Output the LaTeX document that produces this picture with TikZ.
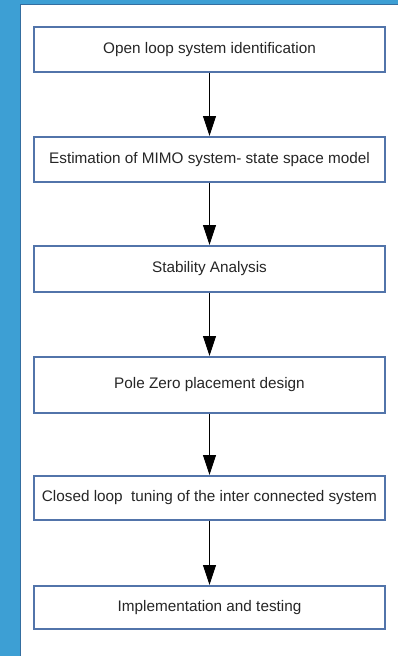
\documentclass[tikz,border=0pt]{standalone}
\usepackage{fontspec}
\setmainfont{Liberation Sans}
\usetikzlibrary{arrows.meta}
\definecolor{pageblue}{RGB}{61,159,212}
\definecolor{paneledge}{RGB}{52,110,160}
\definecolor{boxedge}{RGB}{82,116,170}
\tikzset{
  stepbox/.style={draw=boxedge, line width=1.6pt, fill=white, minimum width=351pt,
    inner sep=0pt, anchor=north, font=\fontsize{15.3}{18}\selectfont, text=black!85},
  flow/.style={draw=black, line width=1pt, -{Triangle[length=20pt,width=13pt]}}
}
\begin{document}
\begin{tikzpicture}[x=1pt,y=-1pt]
  % page background and white sheet
  \fill[pageblue] (0,0) rectangle (398,656);
  \useasboundingbox (0,0) rectangle (398,656);
  \filldraw[fill=white, draw=paneledge, line width=0.8pt] (20.5,4.5) rectangle (402,660);
  % process steps
  \node[stepbox, minimum height=45pt] (s1) at (209.5,26) {Open loop system identification};
  \node[stepbox, minimum height=45pt] (s2) at (209.5,136) {Estimation of MIMO system- state space model};
  \node[stepbox, minimum height=46pt] (s3) at (209.5,245) {Stability Analysis};
  \node[stepbox, minimum height=56pt] (s4) at (209.5,356) {Pole Zero placement design};
  \node[stepbox, minimum height=44pt] (s5) at (209.5,475) {Closed loop\ \ tuning of the inter connected system};
  \node[stepbox, minimum height=43pt] (s6) at (209.5,585) {Implementation and testing};
  % connectors
  \draw[flow] (s1.south) -- (s2.north);
  \draw[flow] (s2.south) -- (s3.north);
  \draw[flow] (s3.south) -- (s4.north);
  \draw[flow] (s4.south) -- (s5.north);
  \draw[flow] (s5.south) -- (s6.north);
\end{tikzpicture}
\end{document}
